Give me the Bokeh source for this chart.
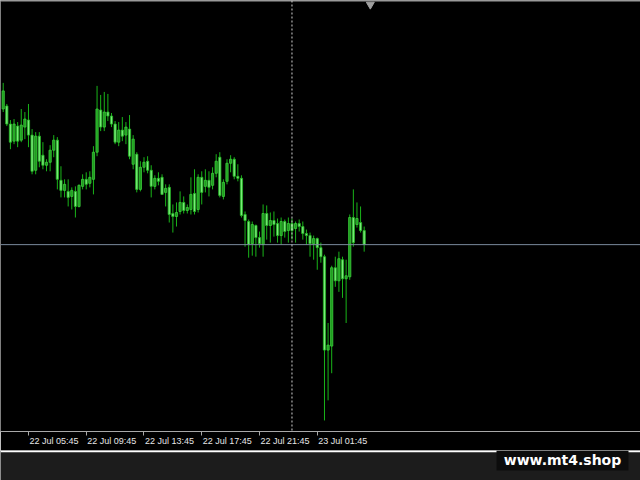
import numpy as np
import pandas as pd
from bokeh.plotting import figure
from bokeh.models import ColumnDataSource, Span, FixedTicker, LinearAxis, Range1d, Label, BoxAnnotation
from bokeh.layouts import column
from bokeh.embed import file_html
from bokeh.resources import INLINE

# ---- data (M15 bars) ----
times = pd.date_range("2025-07-22 04:00", periods=101, freq="15min")
tick_labels = ["22 Jul 05:45", "22 Jul 09:45", "22 Jul 13:45",
               "22 Jul 17:45", "22 Jul 21:45", "23 Jul 01:45"]
separator_label = "23 Jul 00:00"
watermark = "www.mt4.shop"

open_ = [1890, 1893, 1875, 1858, 1873, 1859, 1872, 1879, 1864, 1829,
         1863, 1844, 1834, 1837, 1849, 1859, 1819, 1809, 1808, 1803,
         1808, 1793, 1813, 1820, 1816, 1820, 1847, 1889, 1872, 1887,
         1883, 1875, 1857, 1869, 1864, 1870, 1835, 1845, 1810, 1832,
         1838, 1829, 1813, 1821, 1822, 1807, 1812, 1786, 1783, 1788,
         1797, 1789, 1790, 1806, 1790, 1822, 1813, 1819, 1814, 1826,
         1842, 1803, 1818, 1836, 1840, 1823, 1821, 1785, 1778, 1756,
         1774, 1762, 1755, 1786, 1774, 1779, 1776, 1764, 1778, 1769,
         1776, 1771, 1776, 1773, 1766, 1764, 1756, 1761, 1752, 1743,
         1650, 1654, 1732, 1719, 1740, 1721, 1723, 1782, 1775, 1777,
         1769]
high = [1916, 1895, 1879, 1880, 1877, 1890, 1887, 1895, 1870, 1867,
        1867, 1857, 1840, 1854, 1864, 1862, 1833, 1820, 1820, 1812,
        1813, 1815, 1825, 1827, 1828, 1853, 1913, 1904, 1907, 1905,
        1886, 1878, 1877, 1882, 1877, 1884, 1864, 1847, 1838, 1842,
        1843, 1834, 1824, 1827, 1825, 1815, 1815, 1795, 1797, 1808,
        1803, 1795, 1822, 1830, 1825, 1828, 1830, 1828, 1832, 1845,
        1847, 1820, 1840, 1844, 1842, 1835, 1824, 1788, 1780, 1778,
        1775, 1768, 1795, 1794, 1787, 1788, 1781, 1782, 1780, 1782,
        1781, 1778, 1780, 1778, 1770, 1767, 1764, 1762, 1757, 1745,
        1677, 1734, 1743, 1748, 1743, 1740, 1785, 1810, 1797, 1793,
        1773]
low = [1887, 1873, 1850, 1855, 1852, 1857, 1860, 1852, 1825, 1825,
       1832, 1830, 1828, 1828, 1842, 1810, 1802, 1802, 1793, 1790,
       1782, 1792, 1810, 1810, 1812, 1805, 1843, 1868, 1868, 1878,
       1872, 1855, 1853, 1858, 1855, 1840, 1830, 1807, 1808, 1827,
       1826, 1802, 1810, 1814, 1805, 1793, 1777, 1767, 1773, 1785,
       1786, 1786, 1785, 1785, 1787, 1795, 1807, 1803, 1810, 1822,
       1802, 1800, 1815, 1827, 1820, 1818, 1782, 1753, 1742, 1744,
       1743, 1752, 1743, 1760, 1757, 1763, 1757, 1755, 1762, 1757,
       1760, 1757, 1768, 1760, 1755, 1743, 1740, 1730, 1737, 1580,
       1600, 1627, 1713, 1708, 1702, 1677, 1720, 1753, 1772, 1767,
       1748]
close = [1908, 1875, 1857, 1875, 1858, 1874, 1880, 1864, 1828, 1863,
         1838, 1834, 1837, 1849, 1859, 1820, 1809, 1815, 1802, 1809,
         1793, 1814, 1820, 1815, 1822, 1847, 1890, 1872, 1887, 1883,
         1875, 1857, 1869, 1863, 1872, 1843, 1860, 1810, 1832, 1837,
         1829, 1813, 1821, 1818, 1805, 1811, 1785, 1783, 1787, 1797,
         1789, 1792, 1805, 1788, 1822, 1807, 1819, 1812, 1826, 1838,
         1804, 1817, 1836, 1840, 1823, 1821, 1784, 1779, 1755, 1775,
         1762, 1756, 1786, 1774, 1779, 1775, 1764, 1778, 1768, 1776,
         1769, 1776, 1773, 1766, 1764, 1756, 1761, 1752, 1743, 1650,
         1655, 1732, 1719, 1741, 1721, 1724, 1782, 1757, 1781, 1769,
         1755]

# ---- derived ----
o = np.array(open_, float); h = np.array(high, float)
l = np.array(low, float); c = np.array(close, float)
x = np.arange(len(c))
fmt = [t.strftime("%d %b %H:%M") for t in times]
tick_pos = [fmt.index(s) for s in tick_labels]
sep_pos = fmt.index(separator_label)

bull = c >= o
src_all = ColumnDataSource(dict(x=x, high=h, low=l))
src_bull = ColumnDataSource(dict(x=x[bull], top=np.maximum(o, c)[bull], bottom=np.minimum(o, c)[bull]))
src_bear = ColumnDataSource(dict(x=x[~bull], top=np.maximum(o, c)[~bull], bottom=np.minimum(o, c)[~bull]))

W = 640
x_range = Range1d(-0.75, 176.55)
px_per_bar = W / (x_range.end - x_range.start)

# ---- main chart ----
p = figure(width=W, height=450, x_range=x_range, y_range=Range1d(1569, 1998),
           output_backend="svg", toolbar_location=None, y_axis_location=None, x_axis_location=None,
           background_fill_color="black", border_fill_color="black",
           min_border_left=0, min_border_right=0, min_border_top=0, min_border_bottom=19)
p.outline_line_color = None
p.grid.visible = False

# MT4 style time axis: tick mark at the bar, label to the right of it
label_w_px = 49
shift = (label_w_px / 2 + 1) / px_per_bar
label_pos = [tp + shift for tp in tick_pos]
time_axis = LinearAxis(ticker=FixedTicker(ticks=label_pos, minor_ticks=tick_pos),
                       axis_line_color="#a8a8a8",
                       major_tick_line_color=None, major_tick_out=0, major_tick_in=0,
                       minor_tick_line_color="#a8a8a8", minor_tick_out=4, minor_tick_in=0,
                       major_label_standoff=0, major_label_text_color="#e6e6e6",
                       major_label_text_font="Liberation Sans", major_label_text_font_size="9px")
time_axis.major_label_overrides = {lp: lab for lp, lab in zip(label_pos, tick_labels)}
p.add_layout(time_axis, "below")

top_axis = LinearAxis(ticker=FixedTicker(ticks=[]), axis_line_color="#9a9a9a", axis_line_width=2,
                      major_tick_line_color=None, minor_tick_line_color=None,
                      major_label_standoff=0)
p.add_layout(top_axis, "above")

p.segment(x0="x", y0="low", x1="x", y1="high", source=src_all, line_color="#19b419", line_width=1)
p.vbar(x="x", width=0.62, top="top", bottom="bottom", source=src_bull,
       fill_color="#1e9e1e", line_color="#3ccc3c", line_width=0.8)
p.vbar(x="x", width=0.62, top="top", bottom="bottom", source=src_bear,
       fill_color="#7aea7a", line_color="#22b822", line_width=0.8)

p.add_layout(Span(location=float(c[-1]), dimension="width", line_color="#7a8a9c", line_width=1))
p.add_layout(Span(location=sep_pos, dimension="height", line_color="#d0d0d0", line_width=1, line_dash="2 2"))

# chart-shift marker at the top
p.scatter(x=[len(c) + 0.7], y=[p.y_range.end - 4], marker="inverted_triangle", size=8,
          fill_color="#a0a0a0", line_color="#a0a0a0")

# ---- bottom strip with watermark ----
p2 = figure(width=W, height=30, x_range=Range1d(0, W), y_range=Range1d(0, 30),
            output_backend="svg", toolbar_location=None, x_axis_location=None, y_axis_location=None,
            background_fill_color="#1c1c1c", border_fill_color="#1c1c1c", min_border=0)
p2.outline_line_color = None
p2.grid.visible = False
p2.add_layout(BoxAnnotation(bottom=28.3, top=30, fill_color="white", fill_alpha=1, line_color=None))
p2.add_layout(BoxAnnotation(left=496, right=628, bottom=10, top=30, fill_color="#0c0c0c",
                            fill_alpha=1, line_color=None))
p2.add_layout(Label(x=562, y=21, text=watermark, text_align="center", text_baseline="middle",
                    text_color="white", text_font_size="14px", text_font_style="bold",
                    text_font="DejaVu Sans"))

layout = column(p, p2, spacing=0)
open("out.html", "w").write(file_html(layout, INLINE))
